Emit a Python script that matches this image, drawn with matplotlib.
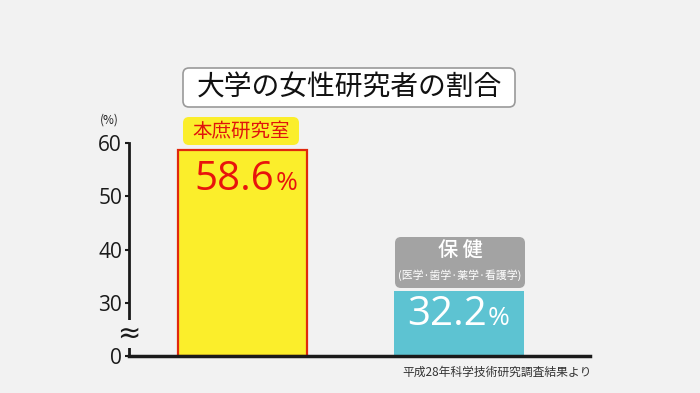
import numpy as np
import matplotlib.pyplot as plt
from matplotlib.patches import FancyBboxPatch
from matplotlib.transforms import IdentityTransform

plt.rcParams['font.family'] = ['Noto Sans CJK JP', 'DejaVu Sans']
NUM = ['Open Sans', 'DejaVu Sans']

# データ
categories = ['本庶研究室', '保 健']
sublabels = ['', '(医学·歯学·薬学·看護学)']
values = [58.6, 32.2]
yticks = [0, 30, 40, 50, 60]
title = '大学の女性研究者の割合'
source = '平成28年科学技術研究調査結果より'

W, H = 700, 393
BG = '#f2f2f2'


# 0〜30 を圧縮した縦軸（波線で省略）
def fwd(v):
    v = np.asarray(v, dtype=float)
    return np.where(v >= 30, v - 20, v / 3)


def inv(d):
    d = np.asarray(d, dtype=float)
    return np.where(d >= 10, d + 20, d * 3)


def px_box(x0, y0, x1, y1, **kw):
    # 画像上のピクセル座標 (上が0) で角丸の箱
    p = FancyBboxPatch((x0, H - y1), x1 - x0, y1 - y0,
                       boxstyle='round,pad=0,rounding_size=6',
                       transform=IdentityTransform(), zorder=-1, **kw)
    fig.patches.append(p)


fig = plt.figure(figsize=(W / 100, H / 100), dpi=100)
fig.patch.set_facecolor(BG)
ax = fig.add_axes([129 / W, 37 / H, 461 / W, 213 / H])
ax.set_facecolor('none')
ax.set_yscale('function', functions=(fwd, inv))
ax.set_ylim(0, 60)
ax.set_xlim(-0.524, 1.605)

x = np.arange(len(values))
ax.bar(x[0], values[0], width=0.596, color='#fbee2b', edgecolor='#e0280c', linewidth=1.6)
ax.bar(x[1], values[1], width=0.596, color='#5dc3d2', linewidth=0)

for s in ['top', 'right']:
    ax.spines[s].set_visible(False)
ax.spines['left'].set_linewidth(2)
ax.spines['left'].set_color('#1a1a1a')
ax.spines['bottom'].set_linewidth(2.5)
ax.spines['bottom'].set_color('#1a1a1a')
ax.set_yticks(yticks)
ax.set_yticklabels([str(t) for t in yticks], family=NUM)
ax.minorticks_off()
ax.tick_params(axis='y', length=3, width=1.5, labelsize=15, pad=2, colors='#1a1a1a')
ax.set_xticks([])

# 波線
ax.text(0, 12.6, '≈', transform=ax.get_yaxis_transform(), ha='center', va='center',
        fontsize=20, color='#1a1a1a', family=['DejaVu Sans'],
        bbox=dict(facecolor=BG, edgecolor='none', pad=0))
fig.text(109 / W, 1 - 120 / H, '(%)', ha='center', va='center', fontsize=8.5, color='#222')

# タイトル
px_box(183, 68, 515, 107, facecolor='white', edgecolor='#9a9a9a', linewidth=1.2)
fig.text(349 / W, 1 - 88 / H, title, ha='center', va='center', fontsize=20, color='#111')

# ラベルの箱
px_box(183, 117, 299, 145, facecolor='#fbee2b', edgecolor='none')
px_box(395, 237, 525, 288, facecolor='#a3a3a3', edgecolor='none')

# 本庶研究室
ax.annotate(categories[0], (x[0], values[0]), xytext=(-1, 19), textcoords='offset pixels',
            ha='center', va='center', fontsize=14, color='#e0140c')
ax.annotate(f'{values[0]:.1f}', (x[0], values[0]), xytext=(32, -40), textcoords='offset pixels',
            ha='right', va='baseline', fontsize=29, color='#e8140c', family=NUM)
ax.annotate('%', (x[0], values[0]), xytext=(33, -40), textcoords='offset pixels',
            ha='left', va='baseline', fontsize=19, color='#e8140c', family=NUM)

# 保健
ax.annotate(categories[1], (x[1], values[1]), xytext=(1, 41), textcoords='offset pixels',
            ha='center', va='center', fontsize=14.5, color='white', weight='medium')
ax.annotate(sublabels[1], (x[1], values[1]), xytext=(1, 16), textcoords='offset pixels',
            ha='center', va='center', fontsize=7.8, color='white')
ax.annotate(f'{values[1]:.1f}', (x[1], values[1]), xytext=(28, -34), textcoords='offset pixels',
            ha='right', va='baseline', fontsize=29, color='white', family=NUM)
ax.annotate('%', (x[1], values[1]), xytext=(29, -34), textcoords='offset pixels',
            ha='left', va='baseline', fontsize=19, color='white', family=NUM)

fig.text(497 / W, 1 - 372 / H, source, ha='center', va='center', fontsize=8.5, color='#333')

fig.savefig('out.png', dpi=100, facecolor=BG)
